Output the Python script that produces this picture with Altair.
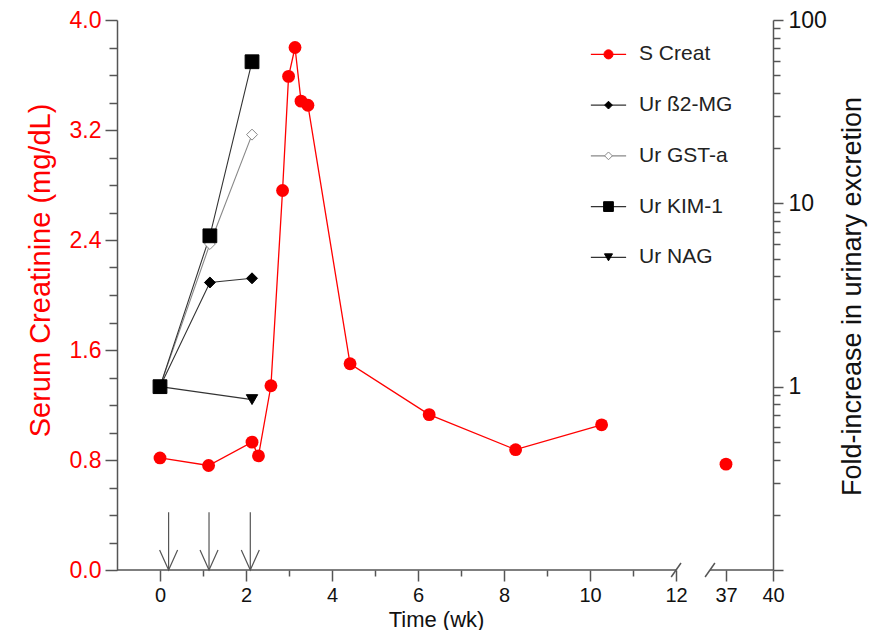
import altair as alt
import pandas as pd

# ---------------- data ----------------
# Serum creatinine, left axis (mg/dL)
creat_weeks = [0.0, 1.13, 2.14, 2.29, 2.58, 2.85, 2.99, 3.14, 3.28, 3.44, 4.42, 6.26, 8.27, 10.27]
creat_values = [0.815, 0.76, 0.93, 0.83, 1.34, 2.76, 3.59, 3.80, 3.41, 3.38, 1.50, 1.13, 0.875, 1.056]
creat_late_weeks = [37.0]
creat_late_values = [0.77]

# Urinary biomarkers, right axis (fold increase, log scale)
ur_weeks = [0.0, 1.16, 2.14]
b2mg_values = [1.0, 3.7, 3.9]
gsta_values = [1.0, 6.0, 23.7]
kim1_values = [1.0, 6.65, 59.2]
nag_weeks = [0.0, 2.14]
nag_values = [1.0, 0.85]

# Dosing arrows (weeks)
arrow_weeks = [0.2, 1.14, 2.1]

series_names = ["S Creat", "Ur ß2-MG", "Ur GST-a", "Ur KIM-1", "Ur NAG"]

x_major_ticks = [0, 2, 4, 6, 8, 10, 12, 37, 40]
x_minor_ticks = [1, 3, 5, 7, 9, 11]
left_major_ticks = [0.0, 0.8, 1.6, 2.4, 3.2, 4.0]
left_minor_ticks = [0.2, 0.4, 0.6, 1.0, 1.2, 1.4, 1.8, 2.0, 2.2, 2.6, 2.8, 3.0, 3.4, 3.6, 3.8]
right_major_ticks = [0.1, 1, 10, 100]
right_minor_ticks = [0.2, 0.3, 0.4, 0.5, 0.6, 0.7, 0.8, 0.9,
                     2, 3, 4, 5, 6, 7, 8, 9,
                     20, 30, 40, 50, 60, 70, 80, 90]

# ---------------- styles ----------------
RED = "#ff0000"
GRAY = "#555555"
TXT = "#111111"
FONT = "Liberation Sans"

marker_shape = {"S Creat": "circle", "Ur ß2-MG": "diamond", "Ur GST-a": "diamond",
                "Ur KIM-1": "square", "Ur NAG": "triangle-down"}
marker_fill = {"S Creat": RED, "Ur ß2-MG": "#000000", "Ur GST-a": "#ffffff",
               "Ur KIM-1": "#000000", "Ur NAG": "#000000"}
marker_stroke = {"S Creat": RED, "Ur ß2-MG": "#000000", "Ur GST-a": "#888888",
                 "Ur KIM-1": "#000000", "Ur NAG": "#000000"}
marker_size = {"S Creat": 165, "Ur ß2-MG": 120, "Ur GST-a": 120, "Ur KIM-1": 190, "Ur NAG": 130}
line_color = {"S Creat": RED, "Ur ß2-MG": "#333333", "Ur GST-a": "#888888",
              "Ur KIM-1": "#333333", "Ur NAG": "#333333"}

# ---------------- layout ----------------
PLOT_W, PLOT_H = 656, 550

# ---------------- scales & axes ----------------
x_scale = alt.Scale(domain=[-1, 12, 37, 40], range=[0, 559, 609, 656], nice=False, zero=False)
yl_scale = alt.Scale(domain=[0, 4], nice=False, zero=False)
yr_scale = alt.Scale(type="log", domain=[0.1, 100], nice=False)

common = dict(grid=False, labelFlush=False, labelOverlap=False)

x_axis = alt.Axis(
    orient="bottom", values=x_major_ticks, domain=False,
    tickSize=11, tickColor=GRAY, tickWidth=1.5,
    labelFont=FONT, labelFontSize=20, labelColor=TXT, labelPadding=4,
    title="Time (wk)", titleFont=FONT, titleFontSize=22, titleFontWeight="normal",
    titleColor=TXT, titleX=319, titleY=49, titleBaseline="middle", **common,
)
x_minor_axis = alt.Axis(
    orient="bottom", values=x_minor_ticks, domain=False, labels=False, title=None,
    tickSize=6, tickColor=GRAY, tickWidth=1.5, **common,
)

yl_axis = alt.Axis(
    orient="left", values=left_major_ticks, format=".1f",
    tickSize=12, domainColor=GRAY, domainWidth=1.5, tickColor=GRAY, tickWidth=1.5,
    labelFont=FONT, labelFontSize=23, labelColor=RED, labelPadding=4,
    title="Serum Creatinine (mg/dL)", titleFont=FONT, titleFontSize=29,
    titleFontWeight="normal", titleColor=RED, titleAngle=270,
    titleX=-77, titleY=250, titleBaseline="middle", **common,
)
yl_minor_axis = alt.Axis(
    orient="left", values=left_minor_ticks, domain=False, labels=False, title=None,
    tickSize=8, tickColor=GRAY, tickWidth=1.5, **common,
)

yr_axis = alt.Axis(
    orient="right", values=right_major_ticks,
    labelExpr="datum.value >= 1 ? format(datum.value, 'd') : ''",
    tickSize=10, domainColor=GRAY, domainWidth=1.5, tickColor=GRAY, tickWidth=1.5,
    labelFont=FONT, labelFontSize=23, labelColor=TXT, labelPadding=5,
    title="Fold-increase in urinary excretion", titleFont=FONT, titleFontSize=27,
    titleFontWeight="normal", titleColor=TXT, titleAngle=270,
    titleX=79, titleY=276, titleBaseline="middle", **common,
)
yr_minor_axis = alt.Axis(
    orient="right", values=right_minor_ticks, domain=False, labels=False, title=None,
    tickSize=7, tickColor=GRAY, tickWidth=1.5, **common,
)

# ---------------- data frames ----------------
creat_df = pd.DataFrame({"week": creat_weeks, "value": creat_values})
creat_pts_df = pd.DataFrame({"week": creat_weeks + creat_late_weeks,
                             "value": creat_values + creat_late_values})

ur_rows = []
for name, wks, vals in [("Ur GST-a", ur_weeks, gsta_values),
                        ("Ur ß2-MG", ur_weeks, b2mg_values),
                        ("Ur NAG", nag_weeks, nag_values),
                        ("Ur KIM-1", ur_weeks, kim1_values)]:
    for w, v in zip(wks, vals):
        ur_rows.append({"series": name, "week": w, "value": v})
ur_df = pd.DataFrame(ur_rows)
for col, mp in [("shape", marker_shape), ("fill", marker_fill), ("stroke", marker_stroke),
                ("size", marker_size), ("lcolor", line_color)]:
    ur_df[col] = ur_df["series"].map(mp)

arrow_df = pd.DataFrame({"week": arrow_weeks})
arrow_df["top"] = 0.42
arrow_df["base"] = 0.0

axis_seg_df = pd.DataFrame({"x0": [-1, 29.0], "x1": [12.05, 40], "y": [0.0, 0.0]})
break_df = pd.DataFrame({"week": [12.05, 29.0], "y": [0.0, 0.0]})

# legend (positioned in data space, upper right of the plot)
leg_top, leg_step = 3.75, 0.369
legend_df = pd.DataFrame({"series": series_names})
legend_df["y"] = [leg_top - i * leg_step for i in range(len(series_names))]
legend_df["x0"] = 10.02
legend_df["x1"] = 10.84
legend_df["xm"] = 10.43
legend_df["xt"] = 11.14
for col, mp in [("shape", marker_shape), ("fill", marker_fill), ("stroke", marker_stroke),
                ("lcolor", line_color)]:
    legend_df[col] = legend_df["series"].map(mp)
legend_df["size"] = legend_df["series"].map(marker_size) * 0.5

# ---------------- left-axis group ----------------
def X(f, ax=None):
    return alt.X(f, scale=x_scale, axis=ax)

def YL(f, ax=None):
    return alt.Y(f, scale=yl_scale, axis=ax)

def YR(f, ax=None):
    return alt.Y(f, scale=yr_scale, axis=ax)

creat_line = alt.Chart(creat_df).mark_line(color=RED, strokeWidth=1.3).encode(
    x=X("week:Q", x_axis), y=YL("value:Q", yl_axis))
creat_pts = alt.Chart(creat_pts_df).mark_circle(color=RED, size=165, opacity=1).encode(
    x=X("week:Q", x_minor_axis), y=YL("value:Q", yl_minor_axis))

axis_line = alt.Chart(axis_seg_df).mark_rule(color=GRAY, strokeWidth=1.5).encode(
    x=X("x0:Q"), x2="x1:Q", y=YL("y:Q"))
breaks = alt.Chart(break_df).mark_point(
    shape="M-0.7,1L0.7,-1", size=196, filled=False, stroke=GRAY, strokeWidth=1.5, opacity=1
).encode(x=X("week:Q"), y=YL("y:Q"))

arrow_shaft = alt.Chart(arrow_df).mark_rule(color=GRAY, strokeWidth=1.2).encode(
    x=X("week:Q"), y=YL("top:Q"), y2="base:Q")
arrow_head = alt.Chart(arrow_df).mark_point(
    shape="M-0.9,-1L0,1L0.9,-1", size=400, filled=False, stroke=GRAY, strokeWidth=1.2,
    opacity=1, yOffset=-10
).encode(x=X("week:Q"), y=YL("base:Q"))

leg_lines = alt.Chart(legend_df).mark_rule(strokeWidth=1.2).encode(
    x=X("x0:Q"), x2="x1:Q", y=YL("y:Q"), stroke=alt.Stroke("lcolor:N", scale=None))
leg_marks = alt.Chart(legend_df).mark_point(filled=True, opacity=1, strokeWidth=1).encode(
    x=X("xm:Q"), y=YL("y:Q"),
    shape=alt.Shape("shape:N", scale=None), fill=alt.Fill("fill:N", scale=None),
    stroke=alt.Stroke("stroke:N", scale=None), size=alt.Size("size:Q", scale=None))
leg_text = alt.Chart(legend_df).mark_text(
    align="left", baseline="middle", font=FONT, fontSize=21, color="#222222"
).encode(x=X("xt:Q"), y=YL("y:Q"), text="series:N")

left_group = alt.layer(creat_line, creat_pts, axis_line, breaks, arrow_shaft, arrow_head,
                       leg_lines, leg_marks, leg_text).resolve_axis(x="independent", y="independent")

# ---------------- right-axis group ----------------
ur_lines = alt.Chart(ur_df).mark_line(strokeWidth=1.1).encode(
    x=X("week:Q"), y=YR("value:Q", yr_axis), detail="series:N",
    stroke=alt.Stroke("lcolor:N", scale=None))
ur_pts = alt.Chart(ur_df).mark_point(filled=True, opacity=1, strokeWidth=1).encode(
    x=X("week:Q"), y=YR("value:Q", yr_minor_axis),
    shape=alt.Shape("shape:N", scale=None), fill=alt.Fill("fill:N", scale=None),
    stroke=alt.Stroke("stroke:N", scale=None), size=alt.Size("size:Q", scale=None))
right_group = alt.layer(ur_lines, ur_pts).resolve_axis(y="independent")

chart = alt.layer(left_group, right_group).resolve_scale(y="independent").resolve_axis(
    x="independent", y="independent"
).properties(
    width=PLOT_W, height=PLOT_H,
    autosize=alt.AutoSizeParams(type="none"),
    padding={"left": 109, "top": 12, "right": 98, "bottom": 60},
    background="white",
).configure_view(stroke=None)

chart.save("out.html", embed_options={"renderer": "svg", "actions": False})
